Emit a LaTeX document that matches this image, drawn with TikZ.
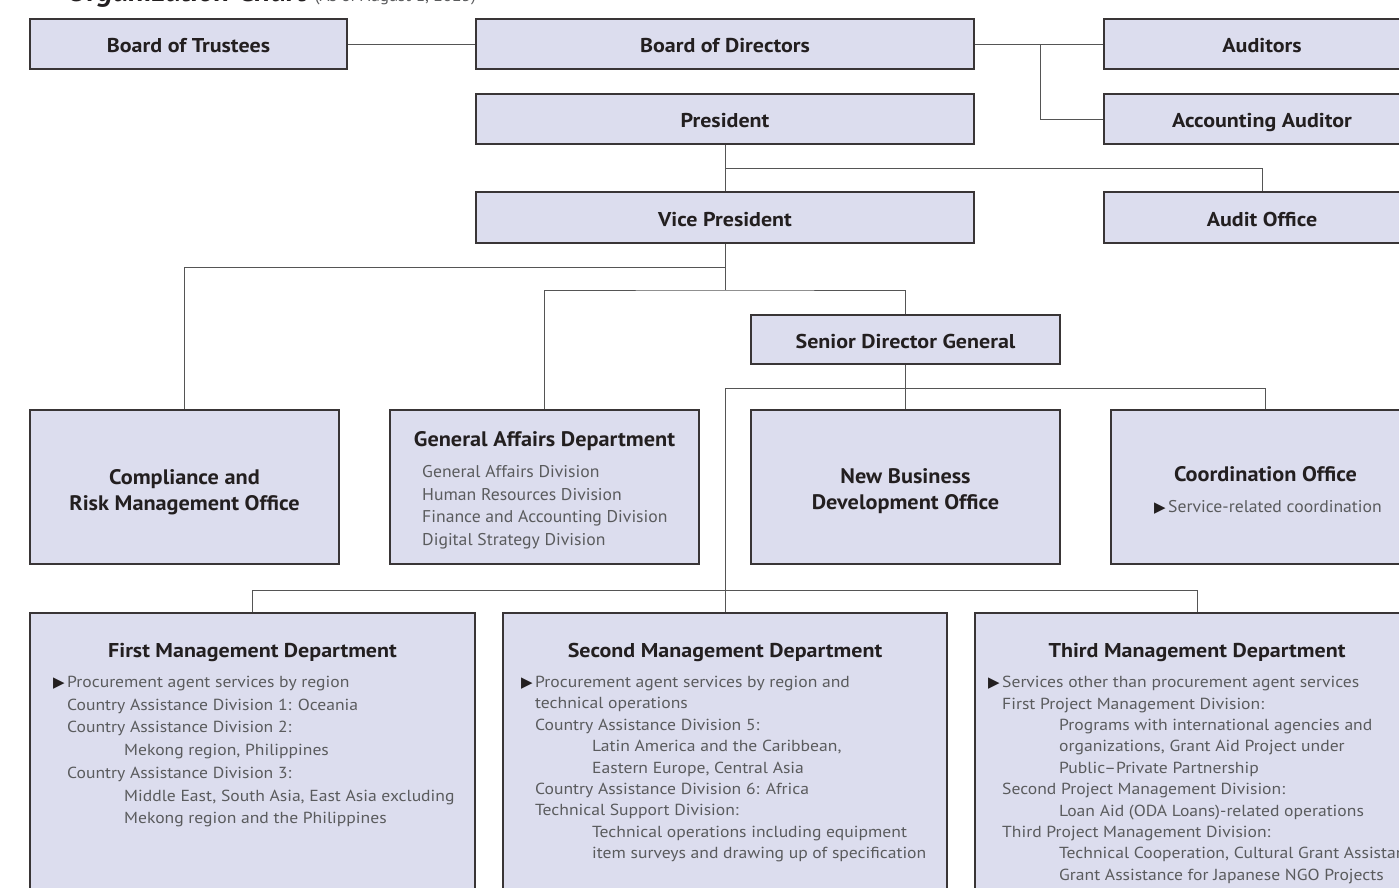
\documentclass[tikz,border=0pt]{standalone}
\usepackage{fontspec}
\setmainfont{PT Sans}[FakeStretch=1.1]
\newfontfamily\midf{PT Sans}[FakeStretch=1.06]
\newfontfamily\gaf{PT Sans}[FakeStretch=1.04]
\newfontfamily\symf{DejaVu Sans}
\definecolor{boxfill}{HTML}{DCDDEE}
\definecolor{ink}{HTML}{231F20}
\definecolor{bodyc}{HTML}{5A5B5D}
\definecolor{linec}{HTML}{555555}
\newcommand{\tri}{\llap{{\color{ink}\symf\fontsize{15}{15}\selectfont ▶}\hspace{2.5pt}}}
\newcommand{\ind}{\hspace*{57pt}}
\begin{document}
\begin{tikzpicture}[x=1pt,y=-1pt,
  box/.style={draw=ink!90, line width=1.1pt, fill=boxfill, inner sep=0pt, text=ink,
    font=\bfseries\fontsize{20}{24}\selectfont, align=center, text height=17pt, text depth=0pt},
  conn/.style={draw=linec, line width=0.9pt},
  ttl/.style={inner sep=0pt, text=ink, align=center},
  bodytxt/.style={inner sep=0pt, text=bodyc, align=left, anchor=north west},
  bodyA/.style={bodytxt, font=\fontsize{16}{22.7}\selectfont},
  bodyB/.style={bodytxt, font=\fontsize{16}{21.4}\selectfont},
  bodyG/.style={bodytxt, font=\gaf\fontsize{17}{22.7}\selectfont},
  midttl/.style={ttl, font=\midf\bfseries\fontsize{21}{26}\selectfont},
  depttl/.style={ttl, font=\bfseries\fontsize{20}{24}\selectfont}
]
\useasboundingbox (0,0) rectangle (1399,887);
\clip (0,0) rectangle (1399,887);

% title (cut off at top)
\node[anchor=base west, inner sep=0pt, text=ink] (title) at (67,1.2)
  {\bfseries\itshape\fontsize{28}{32}\selectfont Organization Chart\hspace{8pt}{\color{bodyc}\mdseries\upshape\fontsize{15.6}{18}\selectfont (As of August 1, 2023)}};

% top rows
\node[box, minimum width=317pt, minimum height=50pt] (bot) at (188.5,44) {Board of Trustees};
\node[box, minimum width=498pt, minimum height=50pt] (bod) at (725,44) {Board of Directors};
\node[box, minimum width=316pt, minimum height=50pt] (aud) at (1262,44) {Auditors};
\node[box, minimum width=498pt, minimum height=50pt] (pres) at (725,119) {President};
\node[box, minimum width=316pt, minimum height=50pt] (acc) at (1262,119) {Accounting Auditor};
\node[box, minimum width=498pt, minimum height=51pt] (vp) at (725,217.5) {Vice President};
\node[box, minimum width=316pt, minimum height=51pt] (ao) at (1262,217.5) {Audit Office};
\node[box, minimum width=309pt, minimum height=49pt] (sdg) at (905.5,339.5) {Senior Director General};

% middle row
\node[box, minimum width=309pt, minimum height=154pt] (cro) at (184.5,487) {};
\node[box, minimum width=309pt, minimum height=154pt] (gad) at (544.5,487) {};
\node[box, minimum width=309pt, minimum height=154pt] (nbd) at (905.5,487) {};
\node[box, minimum width=309pt, minimum height=154pt] (coo) at (1265.5,487) {};

\node[midttl] (croT) at (184.5,492.5) {Compliance and\\Risk Management Office};
\node[midttl] (gadT) at (544.5,441) {General Affairs Department};
\node[bodyG] (gadB) at (422,465) {General Affairs Division\\Human Resources Division\\Finance and Accounting Division\\Digital Strategy Division};
\node[midttl] (nbdT) at (905.5,491) {New Business\\Development Office};
\node[midttl] (cooT) at (1265.5,474.5) {Coordination Office};
\node[inner sep=0pt, text=bodyc, font=\gaf\fontsize{17}{20}\selectfont] (cooB) at (1275,507) {\tri Service-related coordination};

% bottom row
\node[box, minimum width=445pt, minimum height=300pt] (fmd) at (252.5,763) {};
\node[box, minimum width=444pt, minimum height=300pt] (smd) at (725,763) {};
\node[box, minimum width=444pt, minimum height=300pt] (tmd) at (1197,763) {};

\node[depttl] (fmdT) at (252.5,652) {First Management Department};
\node[bodyA] (fmdB) at (67,676) {\tri Procurement agent services by region\\
Country Assistance Division 1: Oceania\\
Country Assistance Division 2:\\
\ind Mekong region, Philippines\\
Country Assistance Division 3:\\
\ind Middle East, South Asia, East Asia excluding\\
\ind Mekong region and the Philippines};

\node[depttl] (smdT) at (725,652) {Second Management Department};
\node[bodyB] (smdB) at (535,676) {\tri Procurement agent services by region and\\
technical operations\\
Country Assistance Division 5:\\
\ind Latin America and the Caribbean,\\
\ind Eastern Europe, Central Asia\\
Country Assistance Division 6: Africa\\
Technical Support Division:\\
\ind Technical operations including equipment\\
\ind item surveys and drawing up of specification};

\node[depttl] (tmdT) at (1197,652) {Third Management Department};
\node[bodyB] (tmdB) at (1002,676) {\tri Services other than procurement agent services\\
First Project Management Division:\\
\ind Programs with international agencies and\\
\ind organizations, Grant Aid Project under\\
\ind Public–Private Partnership\\
Second Project Management Division:\\
\ind Loan Aid (ODA Loans)-related operations\\
Third Project Management Division:\\
\ind Technical Cooperation, Cultural Grant Assistance,\\
\ind Grant Assistance for Japanese NGO Projects};

% junction coordinates
\coordinate (j0) at (1040,44);
\coordinate (j1) at (725,168);
\coordinate (j2) at (725,267);
\coordinate (j3) at (725,290);
\coordinate (j5) at (725,388);
\coordinate (j6) at (725,590);

% connectors
\draw[conn] (bot.east) -- (bod.west);
\draw[conn] (bod.east) -- (aud.west);
\draw[conn] (j0) |- (acc.west);
\draw[conn] (pres.south) -- (vp.north);
\draw[conn] (j1) -| (ao.north);
\draw[conn] (vp.south) -- (j3);
\draw[conn] (j2) -| (cro.north);
\draw[conn] (gad.north) |- (j3) -| (sdg.north);
\draw[conn] (sdg.south) -- (nbd.north);
\draw[conn] (j5) -| (coo.north);
\draw[conn] (j5) -- (smd.north);
\draw[conn] (fmd.north) |- (j6) -| (tmd.north);
\end{tikzpicture}
\end{document}
